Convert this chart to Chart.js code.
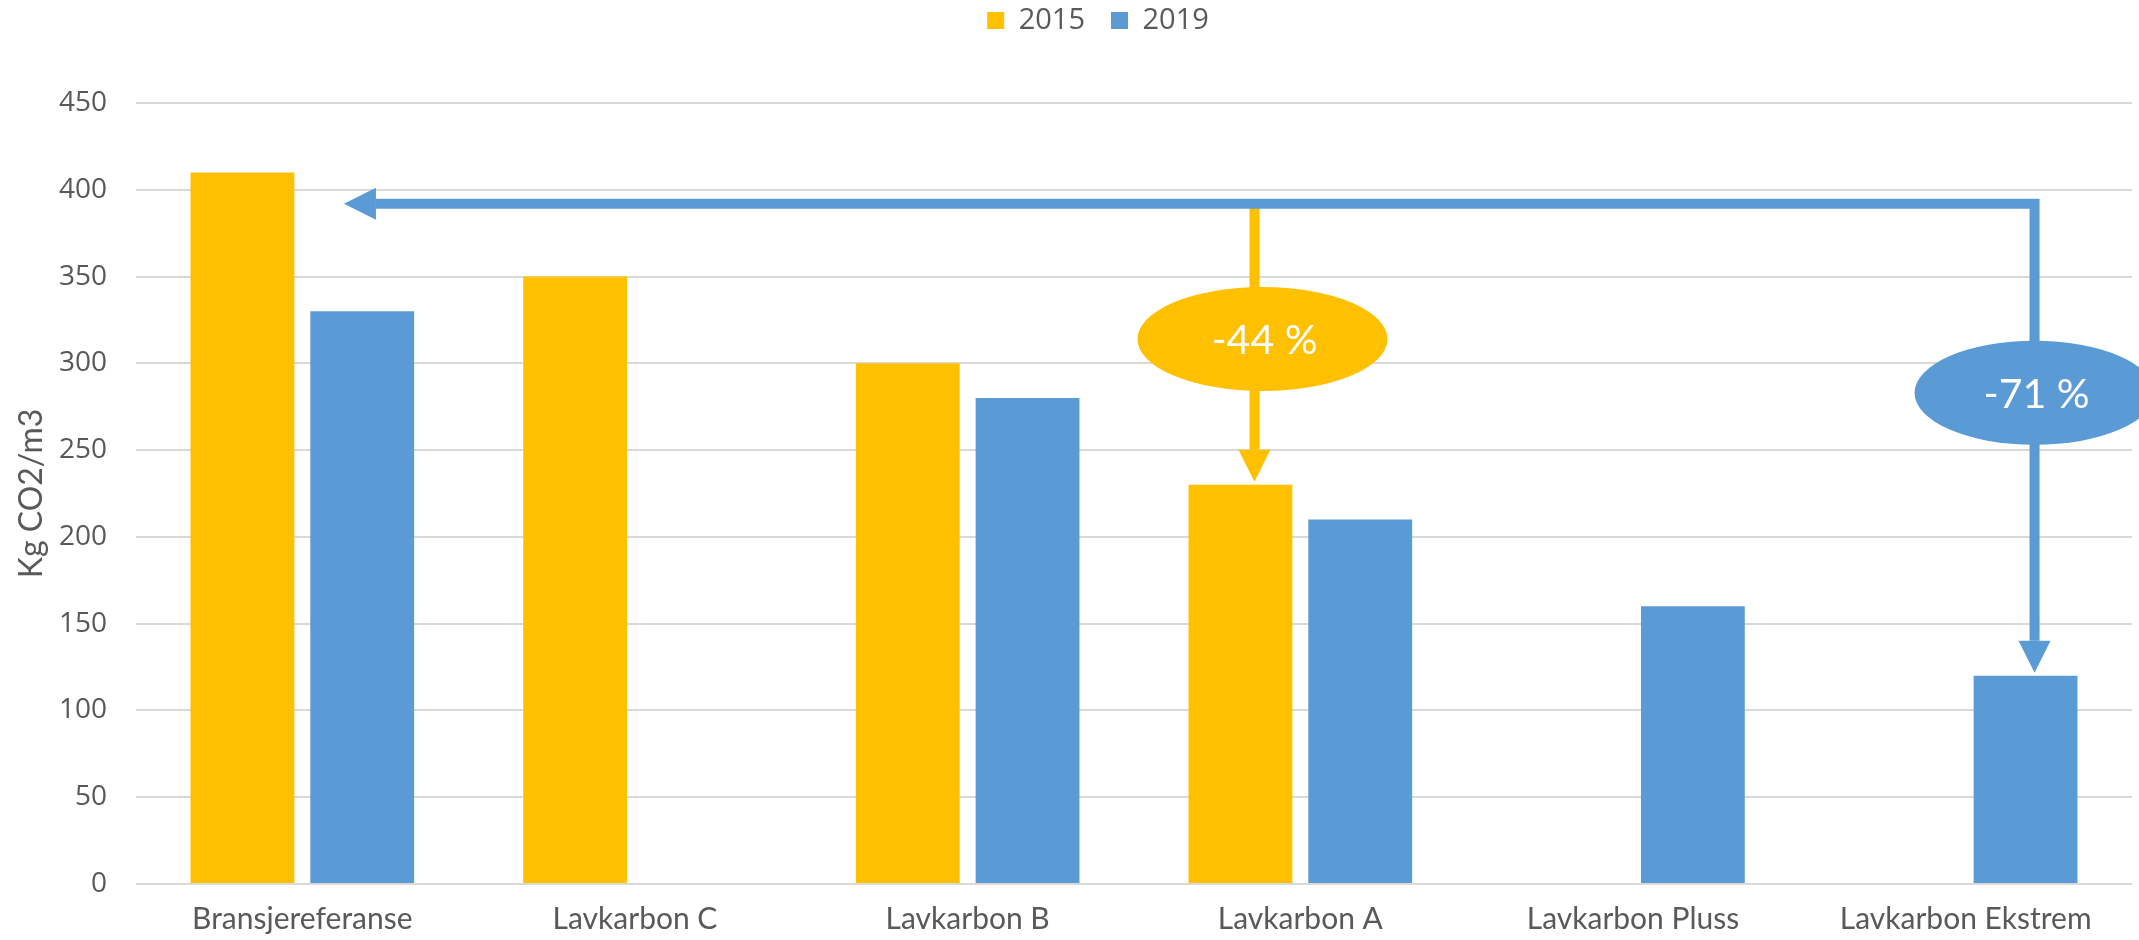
<!DOCTYPE html>
<html>
<head>
<meta charset="utf-8">
<script src="https://cdn.jsdelivr.net/npm/chart.js@4/dist/chart.umd.min.js"></script>
<style>
  html, body { margin: 0; padding: 0; background: #fff; }
  #wrap { width: 2139px; height: 940px; }
</style>
</head>
<body>
<div id="wrap"><canvas id="co2Chart"></canvas></div>
<script>
var categories = ['Bransjereferanse', 'Lavkarbon C', 'Lavkarbon B', 'Lavkarbon A', 'Lavkarbon Pluss', 'Lavkarbon Ekstrem'];
var values2015 = [410, 350, 300, 230, null, null];
var values2019 = [330, null, 280, 210, 160, 120];
var yTicks = [0, 50, 100, 150, 200, 250, 300, 350, 400, 450];
var arrowLevel = 392;

var YELLOW = '#FFC000';
var BLUE = '#5B9BD5';
var GREY_TEXT = '#595959';

// arrows + ellipses drawn on top of the bars, positioned through the scales
var arrowPlugin = {
    id: 'arrows',
    afterDatasetsDraw: function (chart) {
        var ctx = chart.ctx;
        var xs = chart.scales.x, ys = chart.scales.y;
        var step = xs.getPixelForValue(1) - xs.getPixelForValue(0);
        var levelY = ys.getPixelForValue(arrowLevel);
        var lw = 10, head = 32, half = 16;

        // yellow: from level line down to Lavkarbon A 2015
        var yx = chart.getDatasetMeta(0).data[3].x + 14;
        var yTip = ys.getPixelForValue(values2015[3]) - 3;
        ctx.save();
        ctx.strokeStyle = YELLOW;
        ctx.fillStyle = YELLOW;
        ctx.lineWidth = lw;
        ctx.beginPath();
        ctx.moveTo(yx, levelY);
        ctx.lineTo(yx, yTip - head);
        ctx.stroke();
        ctx.beginPath();
        ctx.moveTo(yx - half, yTip - head);
        ctx.lineTo(yx + half, yTip - head);
        ctx.lineTo(yx, yTip);
        ctx.closePath();
        ctx.fill();

        // blue: from Ekstrem down, and back left to Bransjereferanse
        var bx = chart.getDatasetMeta(1).data[5].x + 9;
        var bTip = ys.getPixelForValue(values2019[5]) - 3;
        var lTip = xs.getPixelForValue(0) + step * 0.125;
        ctx.strokeStyle = BLUE;
        ctx.fillStyle = BLUE;
        ctx.lineJoin = 'miter';
        ctx.beginPath();
        ctx.moveTo(lTip + head, levelY);
        ctx.lineTo(bx, levelY);
        ctx.lineTo(bx, bTip - head);
        ctx.stroke();
        ctx.beginPath();
        ctx.moveTo(lTip + head, levelY - half);
        ctx.lineTo(lTip + head, levelY + half);
        ctx.lineTo(lTip, levelY);
        ctx.closePath();
        ctx.fill();
        ctx.beginPath();
        ctx.moveTo(bx - half, bTip - head);
        ctx.lineTo(bx + half, bTip - head);
        ctx.lineTo(bx, bTip);
        ctx.closePath();
        ctx.fill();

        // ellipses with the change labels
        function badge(cx, cy, rx, ry, color, text) {
            ctx.fillStyle = color;
            ctx.beginPath();
            ctx.ellipse(cx, cy, rx, ry, 0, 0, Math.PI * 2);
            ctx.fill();
            ctx.fillStyle = '#ffffff';
            ctx.font = '41px Lato';
            ctx.textAlign = 'center';
            ctx.textBaseline = 'middle';
            ctx.fillText(text, cx + 2, cy + 2);
        }
        badge(yx + 8, ys.getPixelForValue(314), 125, 52, YELLOW, '-44 %');
        badge(bx, ys.getPixelForValue(283), 120, 52, BLUE, '-71 %');
        ctx.restore();
    }
};

var legendSpace = {
    id: 'legendSpace',
    beforeInit: function (chart) {
        var fit = chart.legend.fit;
        chart.legend.fit = function () {
            fit.bind(chart.legend)();
            this.height += 58;
        };
    },
    afterLayout: function (chart) {
        // legend sits a little right of the canvas centre in the original
        chart.legend.left += 32;
        chart.legend.right += 32;
    }
};

var ctx1 = document.getElementById('co2Chart').getContext('2d');
var co2Chart = new Chart(ctx1, {
    type: 'bar',
    data: {
        labels: categories,
        datasets: [{
            label: '2015',
            data: values2015,
            backgroundColor: YELLOW
        }, {
            label: '2019',
            data: values2019,
            backgroundColor: BLUE
        }]
    },
    options: {
        responsive: true,
        maintainAspectRatio: false,
        animation: false,
        categoryPercentage: 0.72,
        barPercentage: 0.867,
        layout: { padding: { left: 0, right: 7, top: -20, bottom: 0 } },
        plugins: {
            legend: {
                position: 'top',
                labels: {
                    boxWidth: 17,
                    boxHeight: 17,
                    padding: 26,
                    color: GREY_TEXT,
                    font: { family: 'Open Sans', size: 29 }
                }
            },
            tooltip: { enabled: false }
        },
        scales: {
            x: {
                grid: { display: false },
                border: { display: false },
                afterFit: function (scale) { scale.height = 56; },
                ticks: {
                    color: GREY_TEXT,
                    padding: 9,
                    font: { family: 'Lato', size: 30 }
                }
            },
            y: {
                min: 0,
                max: 450,
                afterBuildTicks: function (scale) {
                    scale.ticks = yTicks.map(function (v) { return { value: v }; });
                },
                afterFit: function (scale) { scale.width = 136; },
                grid: { color: '#d9d9d9', lineWidth: 2, drawTicks: false },
                border: { display: false },
                ticks: {
                    color: GREY_TEXT,
                    padding: 29,
                    font: { family: 'Open Sans', size: 28 }
                },
                title: {
                    display: true,
                    text: 'Kg CO2/m3',
                    color: GREY_TEXT,
                    padding: { top: 12, bottom: 0 },
                    font: { family: 'Lato', size: 32 }
                }
            }
        }
    },
    plugins: [legendSpace, arrowPlugin]
});
</script>
</body>
</html>
